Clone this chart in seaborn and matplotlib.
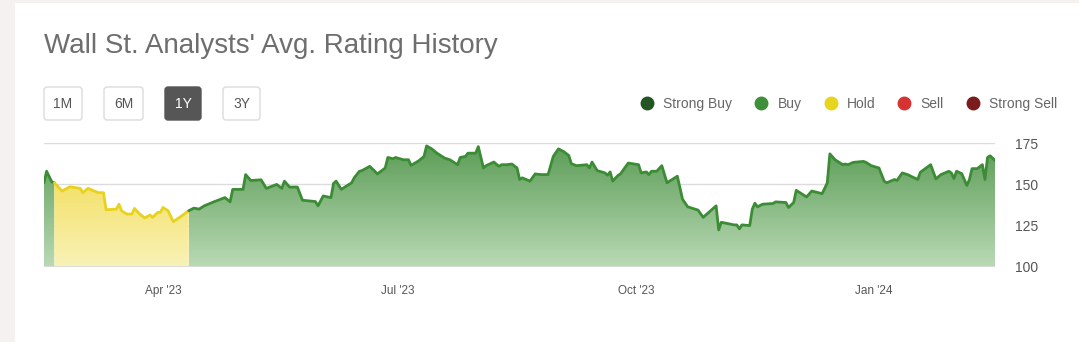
import matplotlib
matplotlib.use("Agg")
import matplotlib.pyplot as plt
import matplotlib.dates as mdates
from matplotlib.patches import FancyBboxPatch, Rectangle, Polygon
from matplotlib.colors import LinearSegmentedColormap
from matplotlib.lines import Line2D
import numpy as np
import pandas as pd
import seaborn as sns

# ---------------- data ----------------
title = "Wall St. Analysts' Avg. Rating History"
range_buttons = ["1M", "6M", "1Y", "3Y"]
active_button = "1Y"

legend_labels = ["Strong Buy", "Buy", "Hold", "Sell", "Strong Sell"]
legend_colors = ["#245524", "#3f8f3a", "#e8d41a", "#d63333", "#7b1c1c"]

y_ticks = [100, 125, 150, 175]
x_tick_dates = ["2023-04-01", "2023-07-01", "2023-10-01", "2024-01-01"]

dates = [
    "2023-02-14", "2023-02-15", "2023-02-17", "2023-02-18", "2023-02-21", "2023-02-24",
    "2023-02-28", "2023-03-01", "2023-03-03", "2023-03-07", "2023-03-09", "2023-03-10",
    "2023-03-14", "2023-03-15", "2023-03-16", "2023-03-18", "2023-03-20", "2023-03-21",
    "2023-03-23", "2023-03-25", "2023-03-27", "2023-03-28", "2023-03-30", "2023-03-31",
    "2023-04-01", "2023-04-03", "2023-04-05", "2023-04-08", "2023-04-11", "2023-04-13",
    "2023-04-15", "2023-04-17", "2023-04-21", "2023-04-25", "2023-04-27", "2023-04-28",
    "2023-05-02", "2023-05-03", "2023-05-05", "2023-05-09", "2023-05-11", "2023-05-15",
    "2023-05-17", "2023-05-18", "2023-05-20", "2023-05-23", "2023-05-25", "2023-05-30",
    "2023-05-31", "2023-06-02", "2023-06-05", "2023-06-06", "2023-06-07", "2023-06-09",
    "2023-06-13", "2023-06-14", "2023-06-16", "2023-06-17", "2023-06-20", "2023-06-23",
    "2023-06-26", "2023-06-27", "2023-06-29", "2023-06-30", "2023-07-03", "2023-07-05",
    "2023-07-06", "2023-07-09", "2023-07-11", "2023-07-12", "2023-07-14", "2023-07-16",
    "2023-07-19", "2023-07-21", "2023-07-24", "2023-07-25", "2023-07-27", "2023-07-28",
    "2023-07-31", "2023-08-01", "2023-08-03", "2023-08-04", "2023-08-07", "2023-08-09",
    "2023-08-10", "2023-08-12", "2023-08-14", "2023-08-16", "2023-08-17", "2023-08-18",
    "2023-08-21", "2023-08-23", "2023-08-25", "2023-08-28", "2023-08-30", "2023-09-01",
    "2023-09-03", "2023-09-05", "2023-09-06", "2023-09-08", "2023-09-12", "2023-09-13",
    "2023-09-14", "2023-09-16", "2023-09-19", "2023-09-20", "2023-09-21", "2023-09-22",
    "2023-09-24", "2023-09-25", "2023-09-28", "2023-10-02", "2023-10-03", "2023-10-05",
    "2023-10-06", "2023-10-07", "2023-10-09", "2023-10-11", "2023-10-13", "2023-10-17",
    "2023-10-19", "2023-10-21", "2023-10-25", "2023-10-27", "2023-11-01", "2023-11-02",
    "2023-11-03", "2023-11-06", "2023-11-08", "2023-11-09", "2023-11-10", "2023-11-11",
    "2023-11-14", "2023-11-15", "2023-11-16", "2023-11-17", "2023-11-19", "2023-11-23",
    "2023-11-24", "2023-11-28", "2023-11-29", "2023-12-01", "2023-12-02", "2023-12-06",
    "2023-12-08", "2023-12-12", "2023-12-13", "2023-12-14", "2023-12-15", "2023-12-17",
    "2023-12-20", "2023-12-21", "2023-12-22", "2023-12-24", "2023-12-28", "2023-12-29",
    "2023-12-31", "2024-01-03", "2024-01-05", "2024-01-06", "2024-01-09", "2024-01-10",
    "2024-01-12", "2024-01-14", "2024-01-18", "2024-01-19", "2024-01-23", "2024-01-25",
    "2024-01-27", "2024-01-30", "2024-01-31", "2024-02-01", "2024-02-02", "2024-02-04",
    "2024-02-06", "2024-02-07", "2024-02-08", "2024-02-10", "2024-02-12", "2024-02-13",
    "2024-02-14", "2024-02-15", "2024-02-17",
]
values = [
    151.0, 158.0, 151.6, 151.0, 146.0, 148.6,
    147.6, 145.0, 147.6, 145.0, 145.0, 134.6,
    135.0, 138.0, 134.0, 132.0, 132.0, 135.4,
    132.0, 129.6, 131.4, 130.0, 133.0, 133.0,
    136.0, 134.0, 127.4, 130.6, 134.0, 135.6,
    135.0, 137.0, 139.6, 142.0, 139.4, 147.0,
    147.0, 156.0, 152.4, 152.8, 147.6, 150.0,
    147.6, 152.0, 148.4, 148.4, 140.4, 139.6,
    137.0, 143.0, 142.0, 150.6, 152.0, 147.0,
    151.0, 154.0, 158.0, 158.4, 161.0, 156.4,
    160.0, 166.4, 165.6, 166.4, 165.0, 165.0,
    161.6, 164.4, 167.0, 173.4, 171.6, 169.0,
    166.0, 165.0, 162.0, 166.4, 167.0, 169.0,
    169.0, 173.0, 160.0, 161.4, 163.6, 161.0,
    162.0, 162.0, 162.4, 160.0, 153.0, 154.0,
    152.0, 156.4, 156.0, 156.0, 167.0, 171.6,
    170.0, 167.6, 162.6, 161.4, 162.0, 160.0,
    163.6, 158.4, 157.0, 155.6, 157.6, 152.0,
    155.4, 156.4, 163.0, 162.0, 157.0, 157.6,
    156.0, 158.0, 158.0, 161.4, 151.0, 155.0,
    141.0, 136.4, 134.4, 130.0, 137.0, 122.4,
    127.0, 126.0, 125.4, 125.4, 123.0, 125.4,
    125.0, 135.0, 138.6, 136.4, 138.0, 138.4,
    139.4, 139.0, 136.0, 139.0, 146.4, 142.4,
    146.0, 144.4, 147.6, 151.0, 168.6, 165.0,
    162.0, 162.4, 162.0, 163.4, 164.0, 163.4,
    161.4, 160.0, 152.0, 151.0, 153.0, 152.4,
    157.0, 156.0, 153.0, 157.4, 162.0, 153.4,
    156.0, 158.0, 157.0, 153.6, 158.0, 156.6,
    149.4, 153.0, 159.6, 159.6, 162.0, 153.0,
    166.4, 167.4, 164.4,
]

rating_periods = [
    ("Buy", "2023-02-14", "2023-02-18"),
    ("Hold", "2023-02-18", "2023-04-11"),
    ("Buy", "2023-04-11", "2024-02-17"),
]
rating_style = {
    "Buy": {"line": "#3c8c36", "top": "#5a9c55", "bottom": "#badab5"},
    "Hold": {"line": "#e8d21c", "top": "#f1d944", "bottom": "#f9f2b8"},
}

# ---------------- figure ----------------
sns.set_style("white")
plt.rcParams["font.family"] = ["Liberation Sans", "DejaVu Sans"]

W, H = 1079, 342
fig = plt.figure(figsize=(W / 100, H / 100), dpi=100)
fig.patch.set_facecolor("#f4f1f0")
fig.add_artist(Rectangle((15 / W, 0), 1 - 15 / W, 1 - 3 / H, transform=fig.transFigure,
                         facecolor="white", edgecolor="none", zorder=0))

# overlay axes in pixel coordinates for header widgets
ov = fig.add_axes([0, 0, 1, 1], zorder=1)
ov.set_xlim(0, W)
ov.set_ylim(H, 0)
ov.axis("off")
ov.patch.set_alpha(0)

ov.text(44, 46, title, fontsize=20, color="#6e6e6e", va="center", ha="left")

btn_boxes = [(44, 82), (104, 143), (165, 201), (223, 260)]
for label, (x0, x1) in zip(range_buttons, btn_boxes):
    active = label == active_button
    ov.add_patch(FancyBboxPatch((x0, 87), x1 - x0, 33,
                                boxstyle="round,pad=0,rounding_size=3",
                                facecolor="#565656" if active else "white",
                                edgecolor="#565656" if active else "#dcdcdc", lw=1))
    ov.text((x0 + x1) / 2, 104, label, fontsize=10, ha="center", va="center",
            color="white" if active else "#555555")

# ---------------- chart ----------------
ax = fig.add_axes([44 / W, 1 - 266.7 / H, 951.3 / W, 123.4 / H], zorder=2)
ax.patch.set_alpha(0)

df = pd.DataFrame({"date": pd.to_datetime(dates), "value": values})
ymin, ymax = 100, 175
grad = np.linspace(0, 1, 256).reshape(-1, 1)

for rating, start, end in rating_periods:
    st = rating_style[rating]
    seg = df[(df["date"] >= start) & (df["date"] <= end)]
    sns.lineplot(data=seg, x="date", y="value", color=st["line"], linewidth=2,
                 estimator=None, sort=False, ax=ax, zorder=5)
    xs = mdates.date2num(seg["date"])
    verts = [(xs[0], ymin)] + list(zip(xs, seg["value"])) + [(xs[-1], ymin)]
    clip = Polygon(verts, closed=True, facecolor="none", edgecolor="none")
    ax.add_patch(clip)
    cmap = LinearSegmentedColormap.from_list(rating, [st["bottom"], st["top"]])
    im = ax.imshow(grad, aspect="auto", cmap=cmap, origin="lower",
                   extent=[xs[0], xs[-1], ymin, ymax], zorder=2, interpolation="bilinear")
    im.set_clip_path(clip)

ax.set_xlim(mdates.date2num(pd.Timestamp(dates[0])), mdates.date2num(pd.Timestamp(dates[-1])))
ax.set_ylim(ymin, ymax)
ax.set_aspect("auto")

ax.axhline(ymin, color="#dadada", lw=2, zorder=6)
ax.set_yticks(y_ticks)
ax.yaxis.grid(True, color="#dcdcdc", lw=1)
ax.set_axisbelow(True)
ax.yaxis.tick_right()
ax.tick_params(axis="y", length=0, pad=14, labelsize=10, labelcolor="#555555")

ax.set_xticks(mdates.date2num(pd.to_datetime(x_tick_dates)))
ax.xaxis.set_major_formatter(mdates.DateFormatter("%b '%y"))
ax.tick_params(axis="x", length=7.5, width=1, color="#cccccc", pad=6,
               labelsize=8.5, labelcolor="#555555")
for sp in ax.spines.values():
    sp.set_visible(False)
ax.set_xlabel("")
ax.set_ylabel("")

handles = [Line2D([0], [0], marker="o", linestyle="none", markersize=9,
                  markerfacecolor=c, markeredgecolor=c) for c in legend_colors]
fig.legend(handles, legend_labels, loc="center right", ncol=5, frameon=False,
           bbox_to_anchor=(1057 / W, 1 - 104 / H), fontsize=10, labelcolor="#666666",
           handlelength=0.9, handletextpad=0.7, columnspacing=1.65, borderpad=0,
           borderaxespad=0)

fig.savefig("out.png", dpi=100, facecolor=fig.get_facecolor())
